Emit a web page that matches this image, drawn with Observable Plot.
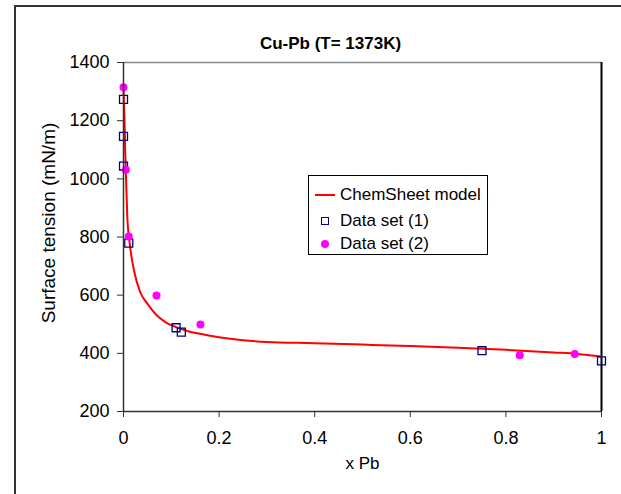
<!DOCTYPE html>
<html>
<head>
<meta charset="utf-8">
<script src="https://cdn.jsdelivr.net/npm/d3@7"></script>
<script src="https://cdn.jsdelivr.net/npm/@observablehq/plot@0.6"></script>
<style>
  html, body { margin: 0; padding: 0; background: #fff; }
  body { width: 621px; height: 494px; overflow: hidden; position: relative; font-family: "Liberation Sans", Arial, sans-serif; }
  #chart { position: absolute; left: 0; top: 0; }
  #border { position: absolute; left: 14px; top: 5px; width: 700px; height: 600px; border: 2px solid #333; box-sizing: border-box; pointer-events: none; }
  #legend { position: absolute; left: 308px; top: 175px; width: 180px; height: 80px; border: 1px solid #000; background: #fff; box-sizing: border-box; font-size: 17px; color: #000; }
  #legend .row { position: absolute; left: 0; width: 180px; height: 20px; }
  #legend .lbl { position: absolute; left: 31px; top: 0; line-height: 20px; white-space: nowrap; }
  #legend .line { position: absolute; left: 6px; top: 9px; width: 20px; height: 2px; background: #ff0000; }
  #legend .sq { position: absolute; left: 12px; top: 6px; width: 8px; height: 8px; border: 1.3px solid #000080; box-sizing: border-box; }
  #legend .dot { position: absolute; left: 12px; top: 6px; width: 8px; height: 8px; border-radius: 50%; background: #ff00ff; }
</style>
</head>
<body>
<div id="chart"></div>
<div id="border"></div>
<div id="legend"></div>
<script>
// ---- data ----
const titleText = "Cu-Pb (T= 1373K)";
const xLabel = "x Pb";
const yLabel = "Surface tension (mN/m)";
const xTicks = [0, 0.2, 0.4, 0.6, 0.8, 1];
const yTicks = [200, 400, 600, 800, 1000, 1200, 1400];
const seriesNames = ["ChemSheet model", "Data set (1)", "Data set (2)"];

// ChemSheet model curve
const modelX = [0, 0.001, 0.002, 0.0035, 0.005, 0.008, 0.013, 0.022, 0.035, 0.05, 0.07, 0.09, 0.11, 0.135, 0.16, 0.2, 0.25, 0.3, 0.4, 0.5, 0.6, 0.7, 0.8, 0.9, 0.95, 1.0];
const modelY = [1320, 1260, 1210, 1100, 1020, 868, 778, 685, 610, 571, 530, 505, 490, 476, 467, 455, 445, 439, 435, 430, 425, 419, 412, 403, 398, 389];

// Data set (1): squares
const set1X = [0, 0, 0, 0.011, 0.11, 0.121, 0.75, 1.0];
const set1Y = [1273, 1146, 1044, 779, 488, 473, 409, 374];

// Data set (2): circles
const set2X = [0, 0.005, 0.011, 0.069, 0.161, 0.829, 0.944];
const set2Y = [1315, 1031, 802, 599, 499, 393, 398];

// ---- build tables ----
const model = modelX.map((x, i) => ({x, y: modelY[i]}));
const set1 = set1X.map((x, i) => ({x, y: set1Y[i]}));
const set2 = set2X.map((x, i) => ({x, y: set2Y[i]}));

const font = "Liberation Sans, Arial, sans-serif";

const plot = Plot.plot({
  width: 621,
  height: 494,
  marginLeft: 123,
  marginRight: 20,
  marginTop: 62,
  marginBottom: 83,
  style: {fontFamily: font, fontSize: "18px", color: "#000", background: "transparent", overflow: "visible"},
  x: {domain: [0, 1]},
  y: {domain: [200, 1400]},
  marks: [
    Plot.ruleY([1400], {stroke: "#888", strokeWidth: 1.5}),
    Plot.ruleX([1], {stroke: "#000", strokeWidth: 2}),
    Plot.line(model, {x: "x", y: "y", stroke: "#ff0000", strokeWidth: 2, curve: "monotone-x"}),
    Plot.dot(set1, {x: "x", y: "y", symbol: "square", r: 4.5, stroke: "#000080", strokeWidth: 1.3, fill: "none"}),
    Plot.dot(set2, {x: "x", y: "y", r: 4, fill: "#ff00ff", stroke: "none"}),
    Plot.ruleX([0], {stroke: "#333", strokeWidth: 1.5}),
    Plot.ruleY([200], {stroke: "#333", strokeWidth: 1.5}),
    Plot.axisX({ticks: xTicks, tickFormat: d => String(d), tickSize: 6, tickPadding: 14, fontSize: 18, stroke: "#333", label: null}),
    Plot.axisY({ticks: yTicks, tickFormat: d => String(d), tickSize: 6, tickPadding: 8, fontSize: 18, stroke: "#333", label: null}),
    Plot.text([titleText], {frameAnchor: "top", dy: -26, dx: -32, fontWeight: "bold", fontSize: 17}),
    Plot.text([xLabel], {frameAnchor: "bottom", dy: 57, fontSize: 17}),
    Plot.text([yLabel], {frameAnchor: "left", textAnchor: "middle", rotate: -90, dx: -75, dy: -14, fontSize: 19, style: "letter-spacing:0.6px"})
  ]
});
document.getElementById("chart").appendChild(plot);

// ---- legend ----
const legend = d3.select("#legend");
const swatch = ["line", "sq", "dot"];
const rowTop = [9, 35, 58];
seriesNames.forEach((name, i) => {
  const row = legend.append("div").attr("class", "row").style("top", rowTop[i] + "px");
  row.append("div").attr("class", swatch[i]);
  row.append("div").attr("class", "lbl").text(name);
});
</script>
</body>
</html>
